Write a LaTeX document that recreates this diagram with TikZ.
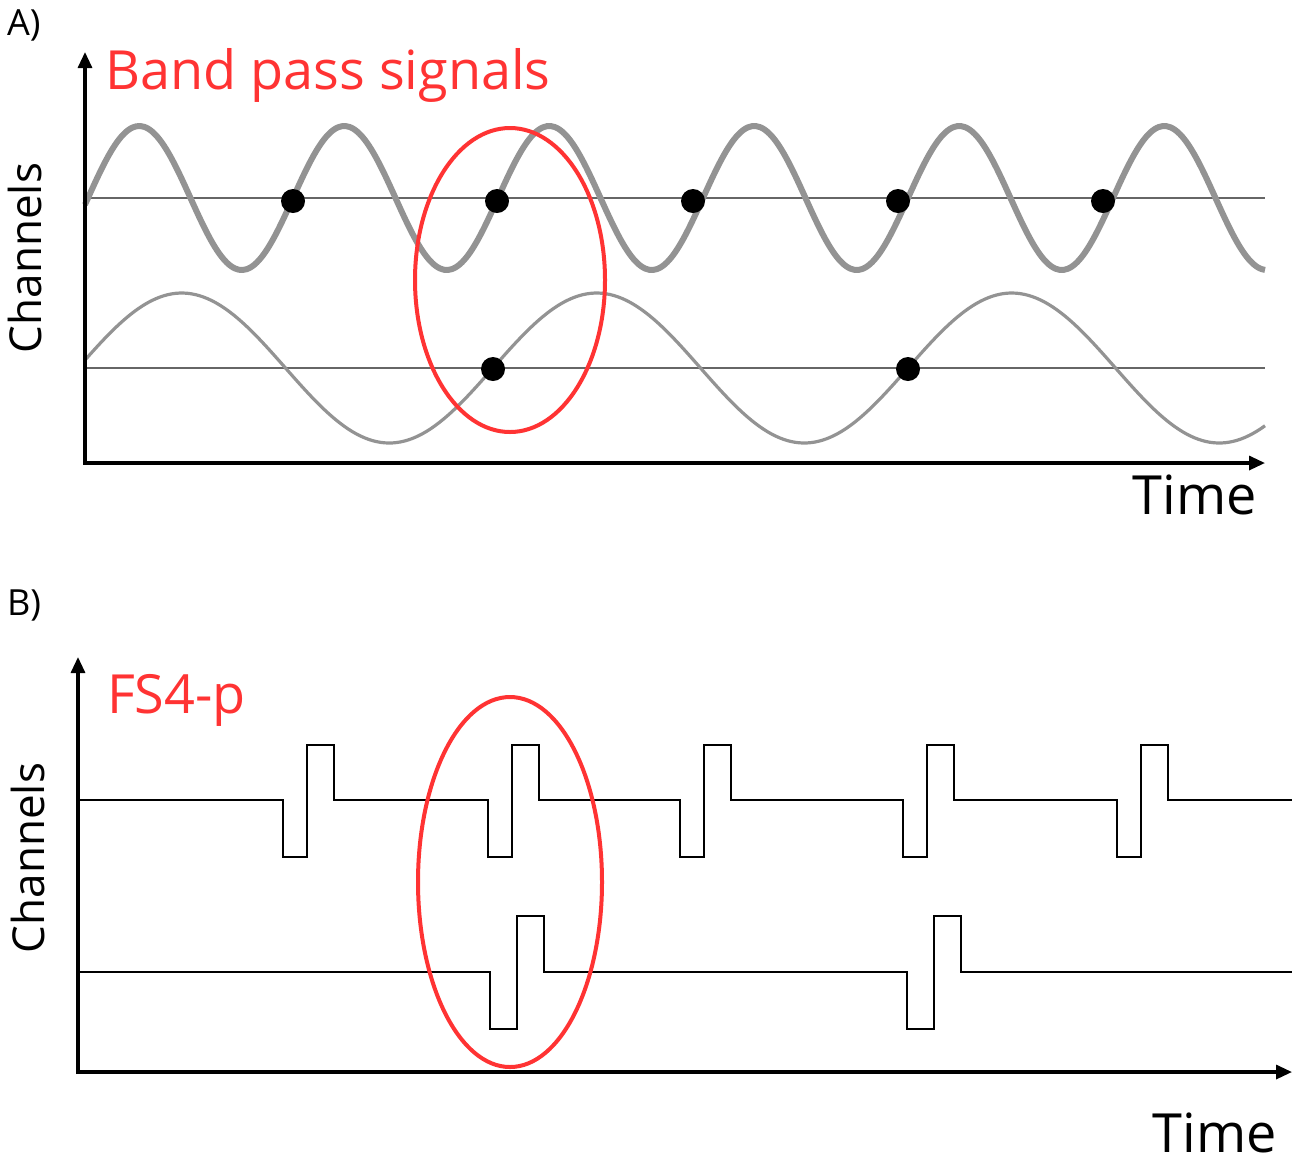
\documentclass[tikz,border=0pt]{standalone}
\usepackage{fontspec}
\setmainfont{Open Sans}
\usetikzlibrary{arrows.meta}
\begin{document}
\begin{tikzpicture}[x=0.5pt,y=-0.5pt,
  axis/.style={line width=1.6pt,-{Triangle[length=8pt,width=7pt]}},
  wave/.style={draw=gray!85,line width=3pt},
  wave2/.style={draw=gray!85,line width=1.6pt},
  base/.style={draw=gray!80!black,line width=0.8pt},
  dotm/.style={circle,fill=black,inner sep=0pt,minimum size=12pt},
  pulse/.style={line width=1.4pt},
  ring/.style={draw=red!80!white,line width=2pt},
  lab/.style={font=\fontsize{18}{20}\selectfont,anchor=west},
  ttl/.style={font=\fontsize{27}{30}\selectfont,text=red!80!white,anchor=west},
  tim/.style={font=\fontsize{27}{30}\selectfont},
  chan/.style={font=\fontsize{22}{24}\selectfont,rotate=90}]
\useasboundingbox (0,0) rectangle (1299,1164);
% Panel A
\node[lab] (la) at (0,25) {A)};
\draw[base] (85,198) -- (1265,198);
\draw[base] (85,368) -- (1265,368);
\draw[wave] plot[domain=85:1265,samples=300,smooth] (\x,{198-72*sin((\x-293)/205*360)});
\draw[wave2] plot[domain=85:1265,samples=300,smooth] (\x,{368-75*sin((\x-493)/415*360)});
\foreach \p [count=\i] in {293,497,693,898,1103} \node[dotm] (da\i) at (\p,201) {};
\node[dotm] (db1) at (493,369) {};
\node[dotm] (db2) at (908,369) {};
\draw[axis] (85,463) -- (85,52);
\draw[axis] (83,463) -- (1265,463);
\node[chan] (ca) at (25,258) {Channels};
\node[tim] (ta) at (1195,495) {Time};
\node[ttl] (bp) at (98,75) {Band pass signals};
\draw[ring] (510,280) ellipse [x radius=95,y radius=152];
% Panel B
\node[lab] (lb) at (0,605) {B)};
\draw[pulse] (78,800)
  -- (283,800) -- (283,857) -- (307,857) -- (307,745) -- (334,745) -- (334,800)
  -- (488,800) -- (488,857) -- (512,857) -- (512,745) -- (539,745) -- (539,800)
  -- (680,800) -- (680,857) -- (704,857) -- (704,745) -- (731,745) -- (731,800)
  -- (903,800) -- (903,857) -- (927,857) -- (927,745) -- (954,745) -- (954,800)
  -- (1117,800) -- (1117,857) -- (1141,857) -- (1141,745) -- (1168,745) -- (1168,800)
  -- (1292,800);
\draw[pulse] (78,972)
  -- (490,972) -- (490,1029) -- (517,1029) -- (517,916) -- (544,916) -- (544,972)
  -- (907,972) -- (907,1029) -- (934,1029) -- (934,916) -- (961,916) -- (961,972)
  -- (1292,972);
\draw[axis] (78,1074) -- (78,657);
\draw[axis] (76,1072) -- (1292,1072);
\node[chan] (cb) at (28,858) {Channels};
\node[tim] (tb) at (1215,1133) {Time};
\node[ttl] (fs) at (100,700) {FS4-p};
\draw[ring] (510,882) ellipse [x radius=92,y radius=185];
\end{tikzpicture}
\end{document}
